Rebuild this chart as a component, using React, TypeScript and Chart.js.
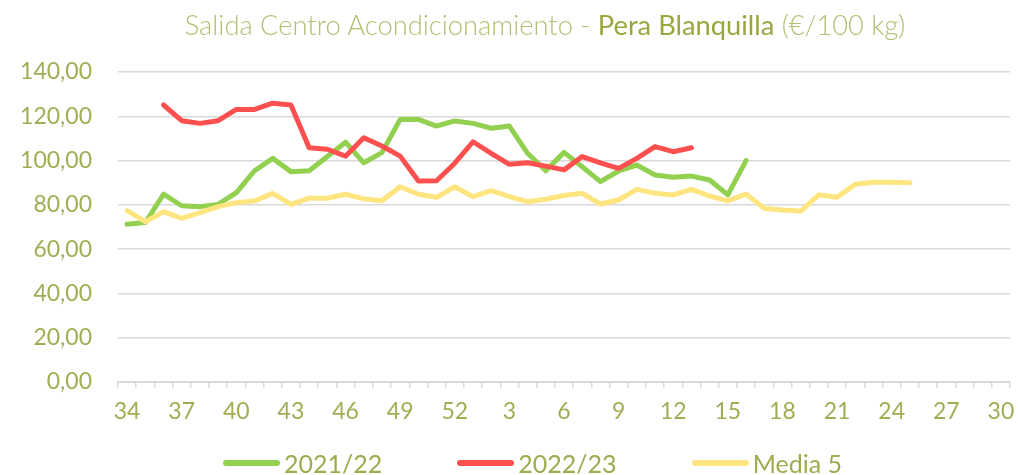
import React, { useEffect, useRef } from "react";
import { Chart, registerables } from "chart.js";

Chart.register(...registerables);

const weeks: string[] = [
  "34","35","36","37","38","39","40","41","42","43","44","45","46","47","48","49","50","51","52",
  "1","2","3","4","5","6","7","8","9","10","11","12","13","14","15","16","17","18","19","20",
  "21","22","23","24","25","26","27","28","29","30",
];

const serie2122: (number | null)[] = [
  71.2, 72.0, 84.8, 79.6, 79.2, 80.2, 85.5, 95.4, 101.0, 95.0, 95.4, 101.8, 108.3, 99.0, 103.6, 118.6, 118.6, 115.6, 117.9,
  116.8, 114.6, 115.6, 103.3, 95.4, 103.7, 97.2, 90.5, 95.3, 98.0, 93.5, 92.5, 93.0, 91.2, 84.5, 100.0,
];

const serie2223: (number | null)[] = [
  null, null, 125.1, 118.0, 116.8, 118.0, 123.1, 123.1, 125.9, 125.1, 105.8, 105.1, 102.0, 110.3, 106.6, 102.0, 90.8, 90.9, 98.8,
  108.5, 103.3, 98.3, 99.0, 97.5, 95.8, 101.8, 99.0, 96.5, 101.0, 106.3, 104.0, 105.8,
];

const media5: (number | null)[] = [
  77.4, 72.4, 76.9, 73.9, 76.5, 79.2, 81.0, 81.8, 85.2, 80.2, 83.0, 83.0, 84.8, 82.7, 81.9, 88.2, 84.8, 83.4, 88.2,
  83.7, 86.4, 83.7, 81.4, 82.5, 84.2, 85.2, 80.4, 82.2, 87.0, 85.2, 84.5, 87.0, 84.0, 81.8, 84.9, 78.4, 77.7, 77.2, 84.5,
  83.4, 89.3, 90.2, 90.2, 90.0,
];

const seriesNames = ["2021/22", "2022/23", "Media 5"];
const seriesColors = ["#92D050", "#FF5050", "#FFE57F"];

const FONT = "Lato, 'Open Sans', sans-serif";
const TICK_COLOR = "#A3AC55";
const GRID_COLOR = "#D9D9D9";

const pad = (arr: (number | null)[]) => weeks.map((_, i) => (i < arr.length ? arr[i] : null));

export default function App() {
  const canvasRef = useRef<HTMLCanvasElement | null>(null);

  useEffect(() => {
    const canvas = canvasRef.current;
    if (!canvas) return;
    const allSeries = [serie2122, serie2223, media5];
    const chart = new Chart(canvas, {
      type: "line",
      data: {
        labels: weeks,
        datasets: allSeries.map((s, i) => ({
          label: seriesNames[i],
          data: pad(s),
          borderColor: seriesColors[i],
          backgroundColor: seriesColors[i],
          borderWidth: 5,
          pointRadius: 0,
          pointHoverRadius: 0,
          tension: 0,
          borderCapStyle: "round" as const,
          borderJoinStyle: "round" as const,
          spanGaps: false,
          order: 2 - i,
        })),
      },
      options: {
        responsive: false,
        animation: false,
        devicePixelRatio: 1,
        layout: { padding: { left: 0, right: 8, top: 72, bottom: 43 } },
        plugins: {
          legend: { display: false },
          title: { display: false },
          tooltip: { enabled: false },
        },
        scales: {
          x: {
            type: "category",
            offset: true,
            grid: {
              display: true,
              drawOnChartArea: false,
              drawTicks: true,
              tickLength: 6,
              color: GRID_COLOR,
              lineWidth: 1.5,
              offset: true,
            },
            border: { display: true, color: GRID_COLOR, width: 2 },
            ticks: {
              autoSkip: false,
              maxRotation: 0,
              minRotation: 0,
              padding: 10,
              color: TICK_COLOR,
              font: { family: FONT, size: 23 },
              callback: (_v: any, idx: number) => (idx % 3 === 0 ? weeks[idx] : ""),
            },
            afterFit: (scale: any) => {
              scale.height = 50;
              scale.paddingLeft = 0;
              scale.paddingRight = 0;
            },
          },
          y: {
            min: 0,
            max: 140,
            grid: { color: GRID_COLOR, lineWidth: 1.5, drawTicks: false },
            border: { display: false },
            ticks: {
              stepSize: 20,
              padding: 26,
              color: TICK_COLOR,
              font: { family: FONT, size: 23 },
              callback: (v: any) => Number(v).toFixed(2).replace(".", ","),
            },
            afterFit: (scale: any) => {
              scale.width = 118;
            },
          },
        },
      },
    });
    return () => chart.destroy();
  }, []);

  return (
    <div style={{ position: "absolute", left: 0, top: 0, width: 1018, height: 475, background: "#fff", overflow: "hidden" }}>
      <canvas ref={canvasRef} width={1018} height={475} style={{ position: "absolute", left: 0, top: 0, width: 1018, height: 475 }} />
      <div
        style={{
          position: "absolute",
          left: 545,
          top: 11,
          transform: "translateX(-50%)",
          whiteSpace: "nowrap",
          fontFamily: FONT,
          fontSize: 27.3,
          lineHeight: "27px",
          fontWeight: 300,
          color: "#B5BD72",
        }}
      >
        Salida Centro Acondicionamiento - <span style={{ fontWeight: 400, color: "#9BA63F" }}>Pera Blanquilla</span> (€/100 kg)
      </div>
      <div
        style={{
          position: "absolute",
          left: 223,
          top: 448,
          height: 30,
          display: "flex",
          alignItems: "center",
          gap: 75,
          whiteSpace: "nowrap",
          fontFamily: FONT,
          fontSize: 25,
          lineHeight: "30px",
          color: "#A0AA4E",
        }}
      >
        {seriesNames.map((n, i) => (
          <div key={n} style={{ display: "flex", alignItems: "center", gap: 4 }}>
            <span style={{ display: "inline-block", width: 57, height: 6, borderRadius: 3, background: seriesColors[i] }} />
            <span>{n}</span>
          </div>
        ))}
      </div>
    </div>
  );
}
